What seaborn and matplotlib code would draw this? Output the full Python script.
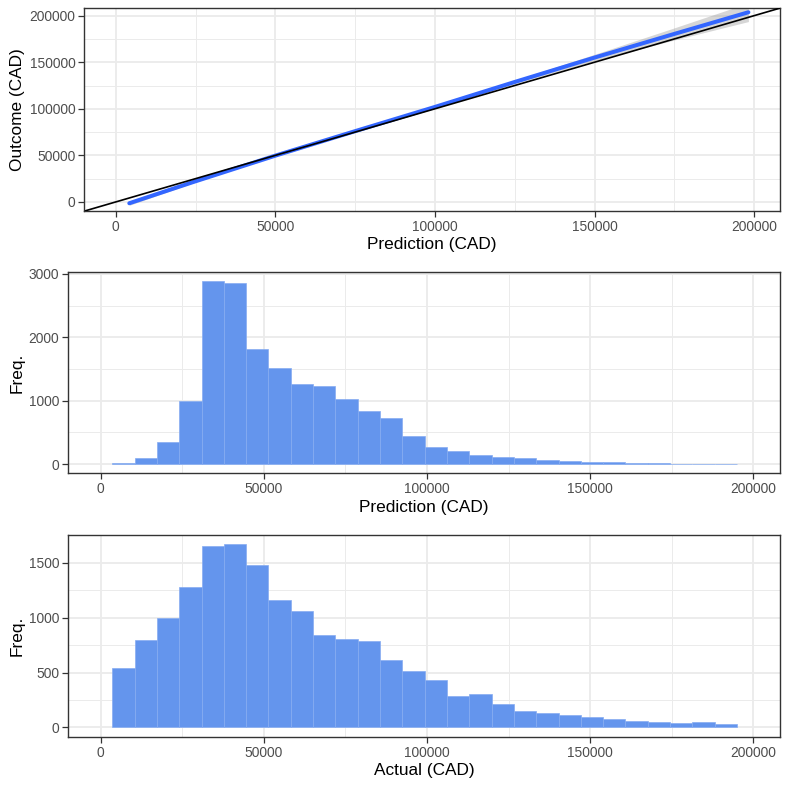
import numpy as np
import pandas as pd
import matplotlib
matplotlib.use("Agg")
import matplotlib.pyplot as plt
import seaborn as sns
from matplotlib.ticker import MultipleLocator, FuncFormatter

# ---------------- data ----------------
# top panel: smoothed fit of outcome vs prediction, with confidence half-width
fit_x = [4260, 24300, 50000, 75000, 100000, 125000, 150000, 175000, 198200]
fit_y = [-1400, 21400, 49700, 76000, 102000, 128800, 155000, 180400, 203650]
fit_ci = [2200, 900, 500, 600, 900, 1800, 3500, 6500, 10000]

# histogram bins (left edge of first bin and common bin width, CAD)
bin_start = 3555
bin_width = 6837
pred_counts = [16, 94, 345, 993, 2891, 2865, 1814, 1521, 1260, 1239, 1035, 831,
               721, 450, 277, 214, 141, 115, 89, 68, 50, 31, 26, 16, 12, 6, 4, 2]
actual_counts = [543, 797, 999, 1280, 1651, 1672, 1479, 1159, 1062, 845, 809, 785,
                 616, 519, 435, 284, 302, 217, 154, 136, 118, 100, 78, 63, 54, 42, 48, 33]

x_ticks = [0, 50000, 100000, 150000, 200000]

# ---------------- style ----------------
sns.set_theme(style="white")
plt.rcParams['font.family'] = ['Liberation Sans', 'DejaVu Sans']

GRID = '#EBEBEB'
BORDER = '#333333'
TICKLAB = '#4D4D4D'
BAR = '#6495ED'

fig = plt.figure(figsize=(7.89, 7.89), dpi=100)
W = H = 789.0

def add_ax(l, r, t, b):
    return fig.add_axes([l / W, 1 - b / H, (r - l) / W, (b - t) / H])

ax1 = add_ax(84.3, 780, 8.3, 210.7)
ax2 = add_ax(68.3, 780, 271.7, 473.3)
ax3 = add_ax(68.3, 780, 534.7, 736.7)

fmt = FuncFormatter(lambda v, p: f"{int(round(v))}")

def style(ax, ymaj, xlabel, ylabel, label_x):
    ax.set_axisbelow(True)
    ax.set_xticks(x_ticks)
    ax.xaxis.set_minor_locator(MultipleLocator(25000))
    ax.yaxis.set_major_locator(MultipleLocator(ymaj))
    ax.yaxis.set_minor_locator(MultipleLocator(ymaj / 2))
    ax.xaxis.set_major_formatter(fmt)
    ax.yaxis.set_major_formatter(fmt)
    ax.grid(which='major', color=GRID, linewidth=1.3)
    ax.grid(which='minor', color=GRID, linewidth=0.7)
    for s in ax.spines.values():
        s.set_color(BORDER)
        s.set_linewidth(1.0)
    ax.tick_params(which='major', length=4, width=0.9, color=BORDER,
                   labelsize=9.9, labelcolor=TICKLAB, pad=2.5,
                   bottom=True, left=True)
    ax.tick_params(which='minor', length=0, bottom=False, left=False)
    ax.set_xlabel(xlabel, fontsize=12.4, color='black', labelpad=2.5)
    ax.set_ylabel(ylabel, fontsize=12.4, color='black')
    ax.yaxis.set_label_coords(label_x, 0.5)

# ---------------- top panel ----------------
df_fit = pd.DataFrame({'x': fit_x, 'y': fit_y, 'ci': fit_ci})
ax1.fill_between(df_fit['x'], df_fit['y'] - df_fit['ci'], df_fit['y'] + df_fit['ci'],
                 color='#999999', alpha=0.4, linewidth=0, zorder=2)
sns.lineplot(data=df_fit, x='x', y='y', ax=ax1, color='#3366FF', linewidth=2.9,
             zorder=3)
ax1.axline((0, 0), slope=1, color='black', linewidth=1.2, zorder=4)
ax1.set_xlim(-9840, 208100)
ax1.set_ylim(-9400, 207900)
style(ax1, 50000, 'Prediction (CAD)', 'Outcome (CAD)', (25 - 84.3) / (780 - 84.3))

# ---------------- histograms ----------------
edges = [bin_start + i * bin_width for i in range(len(pred_counts) + 1)]
centers = [bin_start + (i + 0.5) * bin_width for i in range(len(pred_counts))]

df_pred = pd.DataFrame({'center': centers, 'count': pred_counts})
df_act = pd.DataFrame({'center': centers, 'count': actual_counts})

for ax, df in ((ax2, df_pred), (ax3, df_act)):
    sns.histplot(data=df, x='center', weights='count', bins=edges, ax=ax,
                 color=BAR, alpha=1.0, edgecolor='#86ACF1', linewidth=0.5,
                 zorder=2)
    ax.set_xlim(-9930, 208170)

ax2.set_ylim(-145, 3036)
ax3.set_ylim(-84, 1756)
lx = (25 - 68.3) / (780 - 68.3)
style(ax2, 1000, 'Prediction (CAD)', 'Freq.', lx)
style(ax3, 500, 'Actual (CAD)', 'Freq.', lx)

fig.savefig('out.png', dpi=100, facecolor='white')
